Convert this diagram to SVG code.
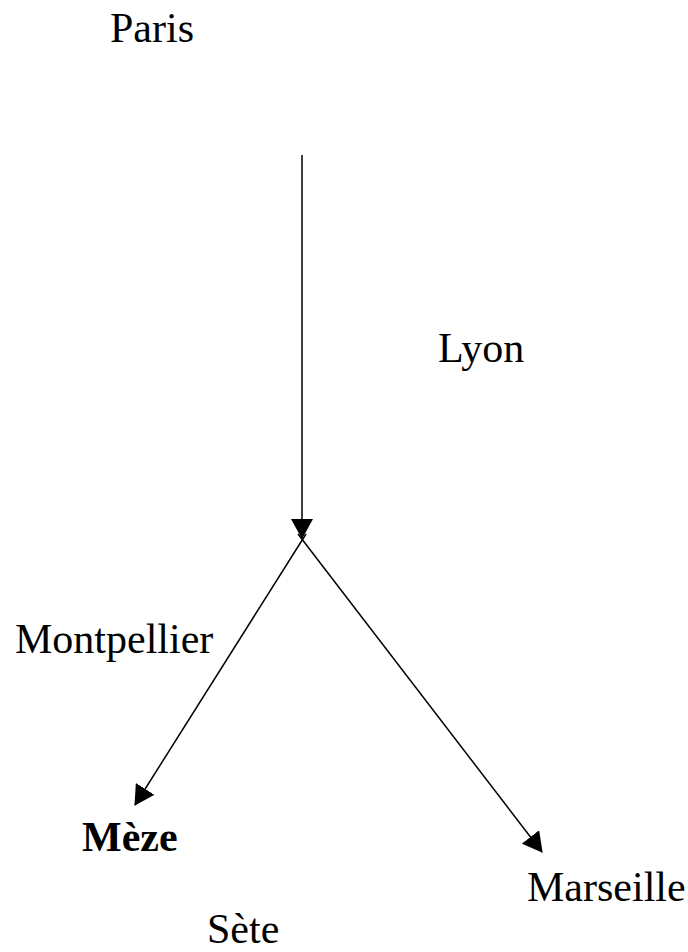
<svg xmlns="http://www.w3.org/2000/svg" width="688" height="952" viewBox="0 0 688 952">
<style>
text{font-family:"Liberation Serif","Times New Roman",serif;font-size:42px;fill:#000}
.b{font-weight:bold}
.e{stroke:#000;stroke-width:1.5;fill:none}
</style>
<defs>
<marker id="ah" viewBox="0 0 20 22" refX="19" refY="11" markerWidth="20" markerHeight="22" markerUnits="userSpaceOnUse" orient="auto">
<path d="M0,0 L20,11 L0,22 Z" fill="#000"/>
</marker>
</defs>
<rect width="688" height="952" fill="#fff"/>
<g id="connectors">
<line class="e" x1="302" y1="155" x2="302" y2="538" marker-end="url(#ah)"/>
<line class="e" x1="306" y1="534" x2="135" y2="805" marker-end="url(#ah)"/>
<line class="e" x1="298" y1="534" x2="542" y2="852" marker-end="url(#ah)"/>
</g>
<g id="paris"><text x="110" y="42">Paris</text></g>
<g id="lyon"><text x="438" y="362">Lyon</text></g>
<g id="montpellier"><text x="15" y="653">Montpellier</text></g>
<g id="meze"><text class="b" x="82" y="851">Mèze</text></g>
<g id="marseille"><text x="527" y="901">Marseille</text></g>
<g id="sete"><text x="207" y="943">Sète</text></g>
</svg>
